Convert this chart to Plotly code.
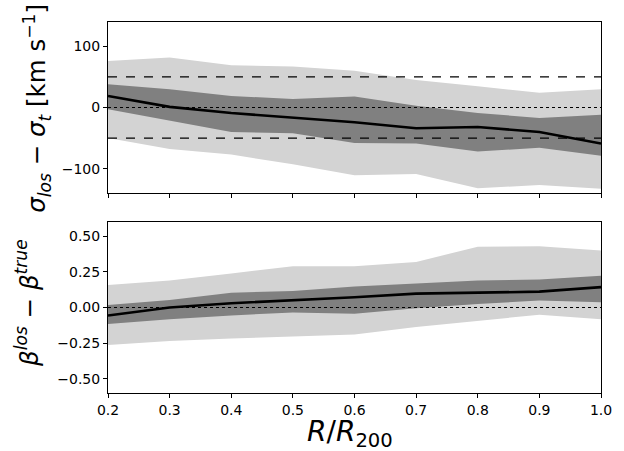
import plotly.graph_objects as go

r = [0.2, 0.3, 0.4, 0.5, 0.6, 0.7, 0.8, 0.9, 1.0]

# Top panel: sigma_los - sigma_t [km/s]
sig_med = [19, 1, -9, -16, -24, -34, -32, -40, -59]
sig_dark_hi = [38, 30, 19, 14, 18, 3, -9, -17, -12]
sig_dark_lo = [-3, -21, -40, -42, -58, -59, -72, -66, -79]
sig_light_hi = [76, 82, 69, 67, 60, 45, 35, 24, 30]
sig_light_lo = [-50, -68, -77, -93, -111, -109, -132, -127, -133]
sig_ref = [50, -50]

# Bottom panel: beta_los - beta_true
beta_med = [-0.056, 0.0, 0.030, 0.049, 0.072, 0.097, 0.106, 0.111, 0.143]
beta_dark_hi = [0.018, 0.053, 0.104, 0.116, 0.148, 0.169, 0.190, 0.197, 0.222]
beta_dark_lo = [-0.116, -0.083, -0.056, -0.035, -0.044, -0.005, 0.025, 0.049, 0.037]
beta_light_hi = [0.157, 0.19, 0.238, 0.29, 0.29, 0.32, 0.426, 0.43, 0.40]
beta_light_lo = [-0.264, -0.236, -0.218, -0.206, -0.19, -0.137, -0.095, -0.051, -0.083]

LIGHT = "#d3d3d3"
DARK = "#808080"

fig = go.Figure()

def add_panel(xa, ya, med, dhi, dlo, lhi, llo, refs):
    common = dict(xaxis=xa, yaxis=ya, showlegend=False, hoverinfo="skip")
    fig.add_trace(go.Scatter(x=r, y=llo, mode="lines", line=dict(width=0, color=LIGHT), **common))
    fig.add_trace(go.Scatter(x=r, y=lhi, mode="lines", line=dict(width=0, color=LIGHT),
                             fill="tonexty", fillcolor=LIGHT, **common))
    fig.add_trace(go.Scatter(x=r, y=dlo, mode="lines", line=dict(width=0, color=DARK), **common))
    fig.add_trace(go.Scatter(x=r, y=dhi, mode="lines", line=dict(width=0, color=DARK),
                             fill="tonexty", fillcolor=DARK, **common))
    for v in refs:
        fig.add_trace(go.Scatter(x=[r[0], r[-1]], y=[v, v], mode="lines",
                                 line=dict(color="black", width=1.2, dash="dash"), **common))
    fig.add_trace(go.Scatter(x=[r[0], r[-1]], y=[0, 0], mode="lines",
                             line=dict(color="black", width=1.2, dash="dot"), **common))
    fig.add_trace(go.Scatter(x=r, y=med, mode="lines",
                             line=dict(color="black", width=2.6), **common))

add_panel("x", "y", sig_med, sig_dark_hi, sig_dark_lo, sig_light_hi, sig_light_lo, sig_ref)
add_panel("x2", "y2", beta_med, beta_dark_hi, beta_dark_lo, beta_light_hi, beta_light_lo, [])

FONT = "DejaVu Sans"
axis_common = dict(showline=True, linecolor="black", linewidth=1, mirror=True,
                   ticks="outside", ticklen=4, tickcolor="black", showgrid=False,
                   zeroline=False, automargin=False,
                   tickfont=dict(family=FONT, size=14, color="black"))

fig.update_layout(
    width=624, height=451,
    margin=dict(l=108, r=23, t=22, b=58),
    plot_bgcolor="white", paper_bgcolor="white",
    font=dict(family=FONT, color="black"),
    xaxis=dict(domain=[0, 1], range=[0.2, 1.0], anchor="y", showticklabels=False,
               tickvals=r, **axis_common),
    yaxis=dict(domain=[0.539, 1], range=[-140, 140], anchor="x",
               tickvals=[-100, 0, 100], ticktext=["\u2212100", "0", "100"],
               **axis_common),
    xaxis2=dict(domain=[0, 1], range=[0.2, 1.0], anchor="y2", tickvals=r,
                ticktext=[f"{v:.1f}" for v in r],
                **axis_common),
    yaxis2=dict(domain=[0, 0.461], range=[-0.6, 0.6], anchor="x2",
                tickvals=[-0.5, -0.25, 0, 0.25, 0.5],
                ticktext=["\u22120.50", "\u22120.25", "0.00", "0.25", "0.50"],
                **axis_common),
)

title_common = dict(xref="paper", yref="paper", showarrow=False,
                    xanchor="center", yanchor="middle")
fig.add_annotation(text="<i>σ<sub>los</sub></i> \u2212 <i>σ<sub>t</sub></i> [km s<sup>\u22121</sup>]",
                   x=-0.144, y=0.766, textangle=-90,
                   font=dict(family=FONT, size=24.5, color="black"), **title_common)
fig.add_annotation(text="<i>β<sup>los</sup></i> \u2212 <i>β<sup>true</sup></i>",
                   x=-0.164, y=0.243, textangle=-90,
                   font=dict(family=FONT, size=24.5, color="black"), **title_common)
fig.add_annotation(text="<i>R</i>/<i>R</i><sub>200</sub>",
                   x=0.491, y=-0.108,
                   font=dict(family=FONT, size=28, color="black"), **title_common)

fig.write_html("out.html", config={"displayModeBar": False},
               post_script="document.body.style.margin='0';document.body.style.overflow='hidden';")
